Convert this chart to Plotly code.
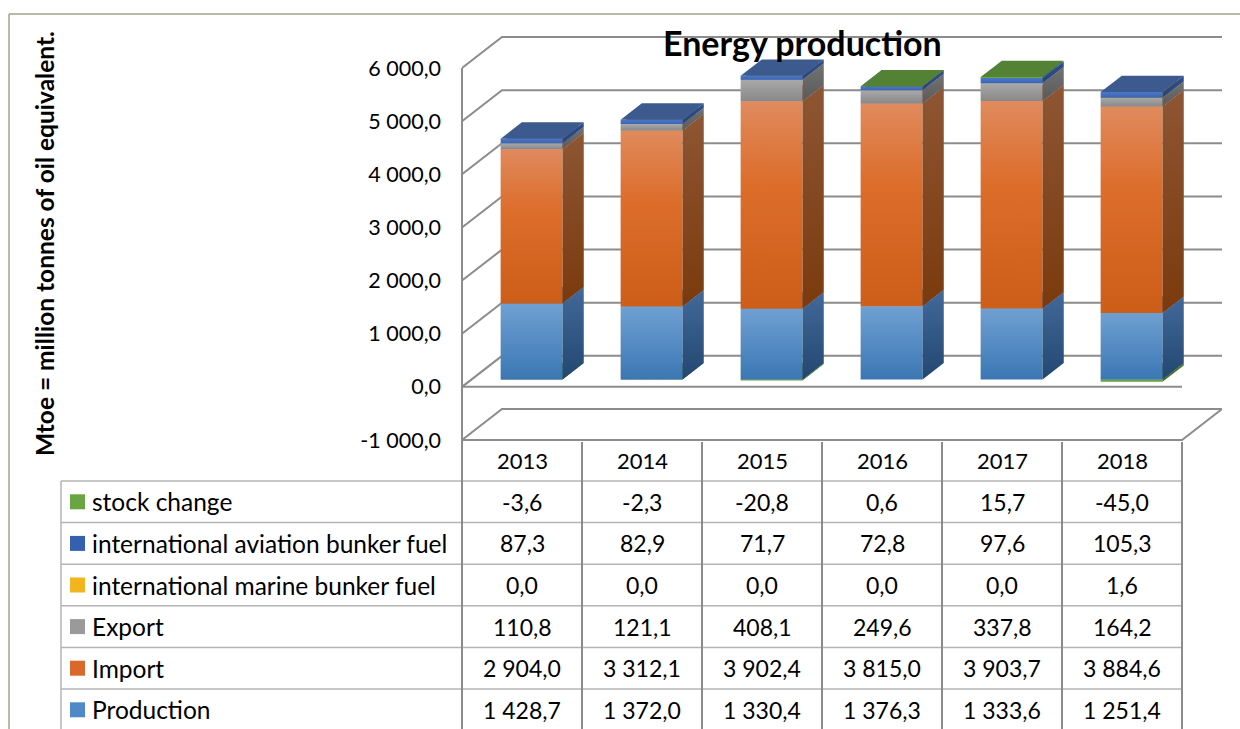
import plotly.graph_objects as go

# ---- data (Mtoe) ----
years = ["2013", "2014", "2015", "2016", "2017", "2018"]
production = [1428.7, 1372.0, 1330.4, 1376.3, 1333.6, 1251.4]
imports = [2904.0, 3312.1, 3902.4, 3815.0, 3903.7, 3884.6]
exports = [110.8, 121.1, 408.1, 249.6, 337.8, 164.2]
marine_bunker = [0.0, 0.0, 0.0, 0.0, 0.0, 1.6]
aviation_bunker = [87.3, 82.9, 71.7, 72.8, 97.6, 105.3]
stock_change = [-3.6, -2.3, -20.8, 0.6, 15.7, -45.0]

series_names = ["Production", "Import", "Export",
                "international marine bunker fuel",
                "international aviation bunker fuel", "stock change"]
series_values = [production, imports, exports, marine_bunker,
                 aviation_bunker, stock_change]
y_ticks = [-1000, 0, 1000, 2000, 3000, 4000, 5000, 6000]

# ---- styles: front gradient (bottom -> top), side gradient, top face, key ----
styles = {
    "Production": dict(front=[[0, "#3b77b4"], [1, "#6fa0d2"]],
                       side=[[0, "#234770"], [1, "#41699a"]],
                       top="#4d7fb8", key="#4f89c6"),
    "Import": dict(front=[[0, "#cc5e18"], [0.6, "#dc6d2b"], [1, "#e08a5d"]],
                   side=[[0, "#7a3a0d"], [1, "#8e5634"]],
                   top="#c0663a", key="#d9692a"),
    "Export": dict(front=[[0, "#888888"], [1, "#a9a9a9"]],
                   side=[[0, "#5a5a5a"], [1, "#727272"]],
                   top="#8a8a8a", key="#9a9a9a"),
    "international marine bunker fuel": dict(
        front=[[0, "#e8ad00"], [1, "#ffc83a"]],
        side=[[0, "#a67c00"], [1, "#b98d10"]],
        top="#d9a400", key="#f2b51e"),
    "international aviation bunker fuel": dict(
        front=[[0, "#3a64b3"], [1, "#4a78c8"]],
        side=[[0, "#27447c"], [1, "#2f4f8a"]],
        top="#3d5a8e", key="#3560b0"),
    "stock change": dict(front=[[0, "#5f9b3a"], [1, "#76b04e"]],
                         side=[[0, "#426b27"], [1, "#4e7a30"]],
                         top="#548235", key="#6aa543"),
}

FONT = "Lato, 'Open Sans', sans-serif"
GRID = "#8c8c8c"

# ---- pseudo-3D geometry (category units / value units) ----
DX = 1 / 3          # wall depth along x
DY = 583.0          # wall depth along y (value units)
F0, F1 = 0.24, 0.77  # bar front / back depth fractions
HW = 0.258          # half bar width
X0, X1 = -0.5, len(years) - 0.5


def fmt(v):
    s = f"{v:,.1f}"
    return s.replace(",", " ").replace(".", ",")


def poly(xs, ys, scale=None, color=None):
    kw = dict(x=xs, y=ys, mode="lines", fill="toself",
              line=dict(width=0), hoverinfo="skip", showlegend=False)
    if scale is not None:
        kw["fillgradient"] = dict(type="vertical", colorscale=scale)
    else:
        kw["fillcolor"] = color
    return go.Scatter(**kw)


def line(xs, ys, color=GRID, width=2):
    return go.Scatter(x=xs, y=ys, mode="lines", line=dict(color=color, width=width),
                      hoverinfo="skip", showlegend=False)


fig = go.Figure()

# walls: left wall diagonals + back wall gridlines
for v in y_ticks:
    fig.add_trace(line([X0, X0 + DX, X1 + DX], [v, v + DY, v + DY]))
# floor outline at the lowest tick
vmin = y_ticks[0]
fig.add_trace(line([X0, X1, X1 + DX], [vmin, vmin, vmin + DY]))
# zero line along the front
fig.add_trace(line([X0, X1], [0, 0]))


def add_segment(i, a, b, st):
    xl, xr = i - HW, i + HW
    fx, fy = F0 * DX, F0 * DY
    bx, by = F1 * DX, F1 * DY
    # front face
    fig.add_trace(poly([xl + fx, xr + fx, xr + fx, xl + fx, xl + fx],
                       [a + fy, a + fy, b + fy, b + fy, a + fy], scale=st["front"]))
    # side face
    fig.add_trace(poly([xr + fx, xr + bx, xr + bx, xr + fx, xr + fx],
                       [a + fy, a + by, b + by, b + fy, a + fy], scale=st["side"]))
    # top face
    fig.add_trace(poly([xl + fx, xr + fx, xr + bx, xl + bx, xl + fx],
                       [b + fy, b + fy, b + by, b + by, b + fy], color=st["top"]))


for i in range(len(years)):
    # negative parts stack downward from zero
    neg = 0.0
    for name, vals in zip(series_names, series_values):
        v = vals[i]
        if v < 0:
            add_segment(i, neg + v, neg, styles[name])
            neg += v
    pos = 0.0
    for name, vals in zip(series_names, series_values):
        v = vals[i]
        if v > 0:
            add_segment(i, pos, pos + v, styles[name])
            pos += v

# ---- layout ----
W, H = 1240, 729
ML, MR, MT, MB = 462, 18, 30, 284
PW, PH = W - ML - MR, H - MT - MB
SCALE = (440 - 68) / 7000.0
ZERO_PX = 68 + 6000 * SCALE
y_lo = (ZERO_PX - (H - MB)) / SCALE
y_hi = (ZERO_PX - MT) / SCALE


def pxx(p):
    return (p - ML) / PW


def pxy(p):
    return (H - MB - p) / PH


fig.update_layout(
    width=W, height=H,
    margin=dict(l=ML, r=MR, t=MT, b=MB),
    plot_bgcolor="white", paper_bgcolor="white",
    font=dict(family=FONT, color="black"),
    showlegend=False,
    xaxis=dict(range=[X0, X1 + DX], visible=False, fixedrange=True),
    yaxis=dict(range=[y_lo, y_hi], tickvals=y_ticks,
               ticktext=[fmt(v) for v in y_ticks],
               showgrid=False, zeroline=False, showline=False, ticks="",
               ticklabelstandoff=20, tickfont=dict(size=21.5, family=FONT)),
)

shapes = []
# chart border (top and left)
shapes.append(dict(type="line", xref="paper", yref="paper",
                   x0=pxx(9), x1=pxx(1245), y0=pxy(14), y1=pxy(14),
                   line=dict(color="#a3a38a", width=1.5)))
shapes.append(dict(type="line", xref="paper", yref="paper",
                   x0=pxx(9), x1=pxx(9), y0=pxy(14), y1=pxy(735),
                   line=dict(color="#a3a38a", width=1.5)))

# ---- data table ----
ROW_TOP = 481
ROW_H = 41.6
HEAD_TOP = 440
TAB_LEFT = 61
TAB_RIGHT = ML + 120 * len(years)
rows = list(reversed(series_names))
for k in range(len(rows) + 1):
    yk = ROW_TOP + k * ROW_H
    shapes.append(dict(type="line", xref="paper", yref="paper",
                       x0=pxx(TAB_LEFT), x1=pxx(TAB_RIGHT), y0=pxy(yk), y1=pxy(yk),
                       line=dict(color="#b4b4b4", width=1.5)))
shapes.append(dict(type="line", xref="paper", yref="paper",
                   x0=pxx(TAB_LEFT), x1=pxx(TAB_LEFT), y0=pxy(ROW_TOP), y1=pxy(740),
                   line=dict(color="#b4b4b4", width=1.5)))
for k in range(len(years) + 1):
    xk = ML + 120 * k
    top = 68 if k == 0 else HEAD_TOP + 2
    shapes.append(dict(type="line", xref="paper", yref="paper",
                       x0=pxx(xk), x1=pxx(xk), y0=pxy(top), y1=pxy(740),
                       line=dict(color=GRID, width=2)))

annotations = []
for i, yr in enumerate(years):
    annotations.append(dict(x=i, y=pxy((HEAD_TOP + ROW_TOP) / 2), xref="x", yref="paper",
                            text=yr, showarrow=False, xanchor="center", yanchor="middle",
                            font=dict(size=22, family=FONT)))

value_of = dict(zip(series_names, series_values))
for r, name in enumerate(rows):
    yc = ROW_TOP + (r + 0.5) * ROW_H
    shapes.append(dict(type="rect", xref="paper", yref="paper",
                       x0=pxx(70), x1=pxx(85), y0=pxy(yc - 7.5), y1=pxy(yc + 7.5),
                       fillcolor=styles[name]["key"], line=dict(width=0)))
    annotations.append(dict(x=pxx(90), y=pxy(yc), xref="paper", yref="paper",
                            text=name, showarrow=False, xanchor="left", yanchor="middle",
                            font=dict(size=24.5, family=FONT)))
    for i, v in enumerate(value_of[name]):
        annotations.append(dict(x=i, y=pxy(yc), xref="x", yref="paper",
                                text=fmt(v), showarrow=False, xanchor="center",
                                yanchor="middle", font=dict(size=23, family=FONT)))

# title and axis title
annotations.append(dict(x=pxx(802), y=pxy(43), xref="paper", yref="paper",
                        text="<b>Energy production</b>", showarrow=False,
                        xanchor="center", yanchor="middle",
                        font=dict(size=34, family=FONT)))
annotations.append(dict(x=pxx(45), y=pxy(244), xref="paper", yref="paper",
                        text="<b>Mtoe = million tonnes of oil equivalent.</b>",
                        showarrow=False, textangle=-90,
                        xanchor="center", yanchor="middle",
                        font=dict(size=24.5, family=FONT)))

fig.update_layout(shapes=shapes, annotations=annotations)
fig.write_html("out.html")
